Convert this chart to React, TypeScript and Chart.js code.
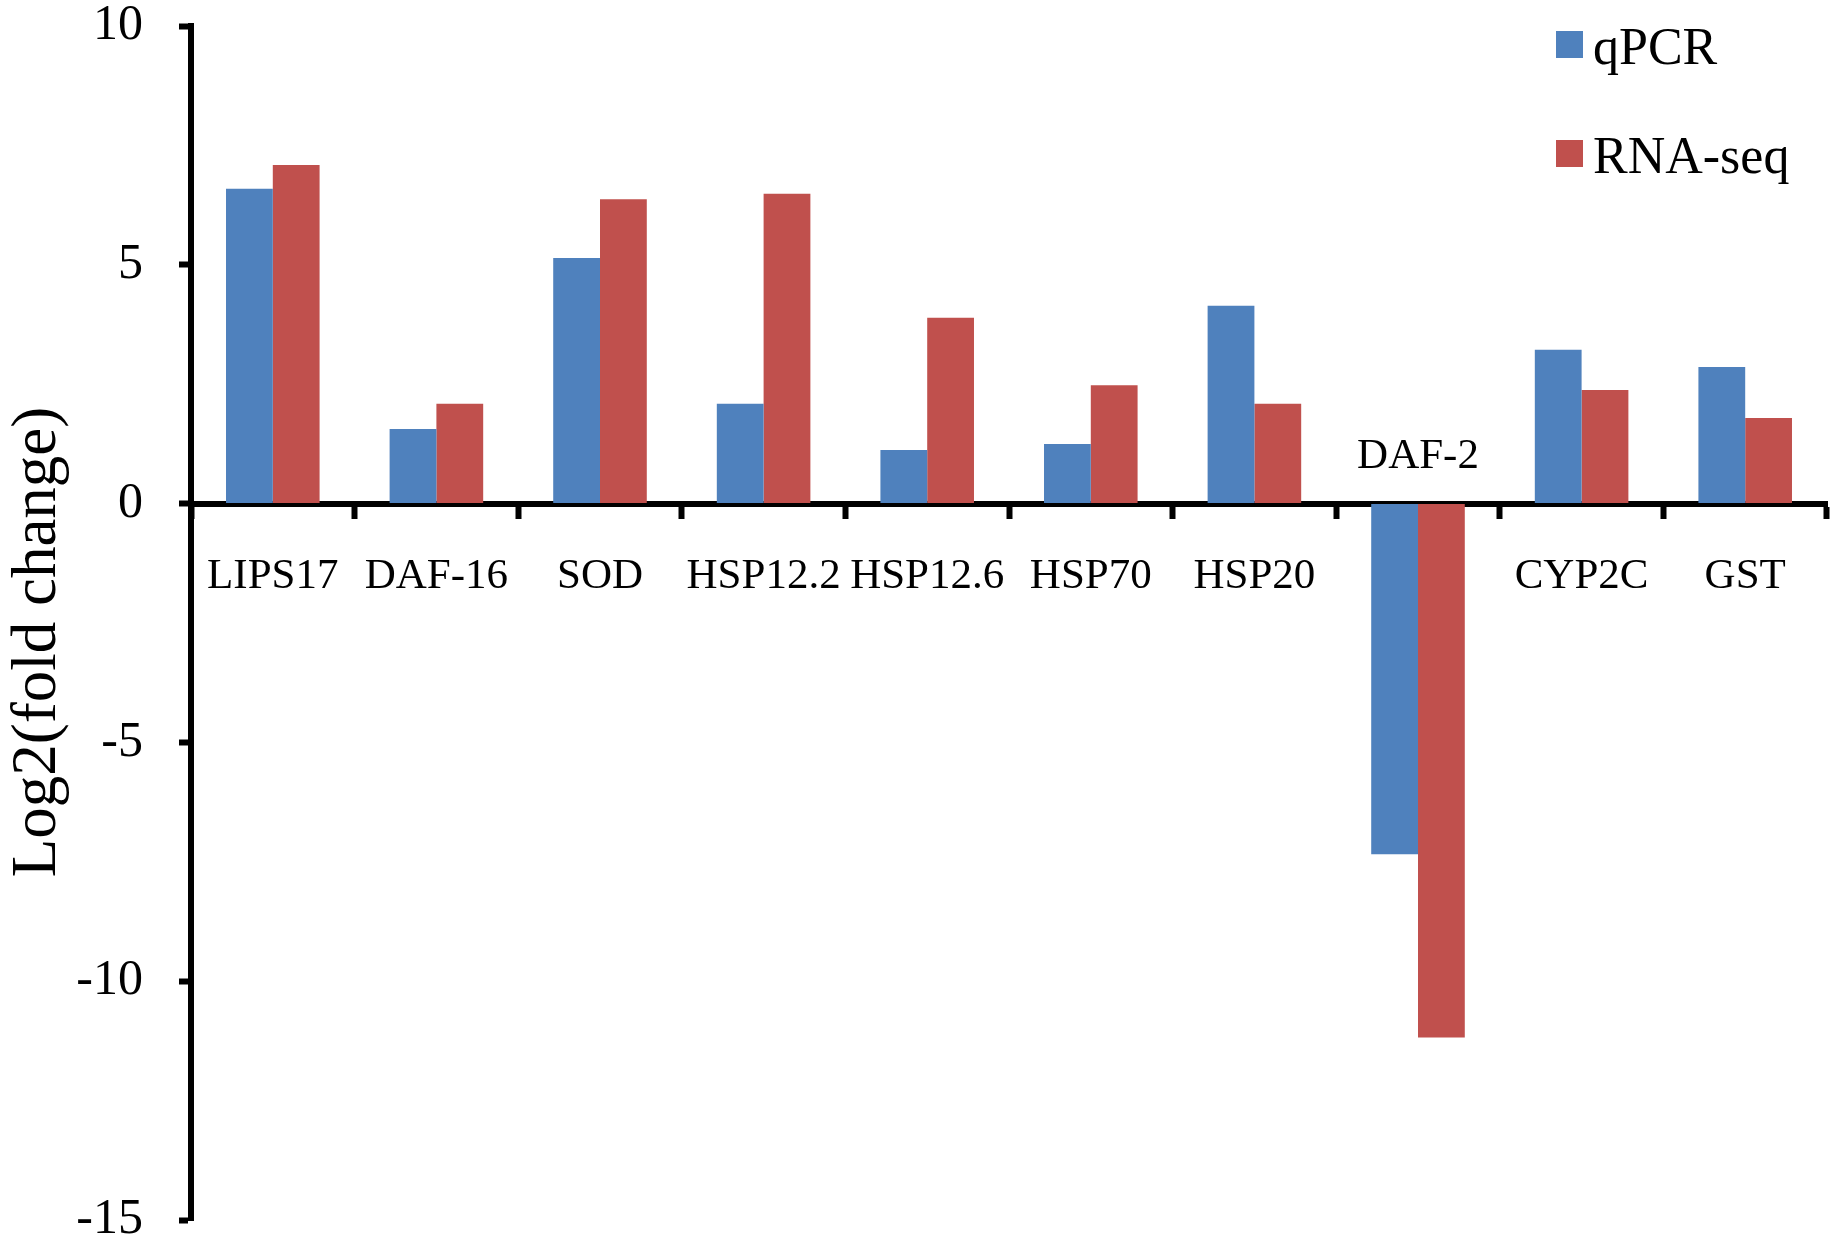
import React, { useEffect, useRef } from 'react';
import { Chart, registerables } from 'chart.js';

Chart.register(...registerables);

const genes = ['LIPS17', 'DAF-16', 'SOD', 'HSP12.2', 'HSP12.6', 'HSP70', 'HSP20', 'DAF-2', 'CYP2C', 'GST'];
const qpcr = [6.59, 1.56, 5.14, 2.09, 1.12, 1.25, 4.14, -7.34, 3.22, 2.86];
const rnaSeq = [7.09, 2.09, 6.37, 6.49, 3.89, 2.48, 2.09, -11.18, 2.38, 1.79];
const yMin = -15;
const yMax = 10;
const yStep = 5;
// these category labels sit above the zero line instead of below it
const labelsAbove = ['DAF-2'];
const yTitle = 'Log2(fold change)';

const FONT = "'Times New Roman', 'Liberation Serif', serif";

// category labels, axis title and legend drawn on top of the chart
const overlay = {
  id: 'overlay',
  afterDraw(chart: any) {
    const { ctx, chartArea } = chart;
    const x = chart.scales.x;
    const y = chart.scales.y;
    const zero = y.getPixelForValue(0);
    ctx.save();
    ctx.fillStyle = '#000';
    ctx.font = `43px ${FONT}`;
    ctx.textAlign = 'center';
    ctx.textBaseline = 'alphabetic';
    genes.forEach((g, i) => {
      const cx = x.getPixelForValue(i);
      const by = labelsAbove.includes(g) ? zero - 36 : zero + 84;
      ctx.fillText(g, cx, by);
    });

    // legend
    chart.data.datasets.forEach((ds: any, i: number) => {
      const top = chartArea.top + 5 + i * 109;
      const left = chartArea.right - 271;
      ctx.fillStyle = ds.backgroundColor;
      ctx.fillRect(left, top, 27, 27);
      ctx.fillStyle = '#000';
      ctx.font = `52px ${FONT}`;
      ctx.textAlign = 'left';
      ctx.fillText(ds.label, left + 37, top + 33);
    });

    // y axis title
    ctx.translate(55, (chartArea.top + chartArea.bottom) / 2 + 19);
    ctx.rotate(-Math.PI / 2);
    ctx.font = `63px ${FONT}`;
    ctx.textAlign = 'center';
    ctx.fillText(yTitle, 0, 0);
    ctx.restore();
  },
};

const FoldChangeChart = () => {
  const chartRef = useRef<HTMLCanvasElement>(null);

  useEffect(() => {
    const chart = new Chart(chartRef.current!, {
      type: 'bar',
      data: {
        labels: genes,
        datasets: [
          {
            label: 'qPCR',
            data: qpcr,
            backgroundColor: '#4F81BD',
            borderWidth: 0,
            barPercentage: 1,
            categoryPercentage: 0.572,
          },
          {
            label: 'RNA-seq',
            data: rnaSeq,
            backgroundColor: '#C0504D',
            borderWidth: 0,
            barPercentage: 1,
            categoryPercentage: 0.572,
          },
        ],
      },
      options: {
        animation: false,
        responsive: true,
        maintainAspectRatio: false,
        layout: {
          padding: { top: 26, right: 15, bottom: 22, left: 0 },
        },
        scales: {
          x: {
            position: { y: 0 },
            grid: {
              drawOnChartArea: false,
              drawTicks: true,
              tickLength: 12,
              tickWidth: 6,
              tickColor: '#000',
            },
            border: { display: true, color: '#000', width: 6 },
            ticks: { display: false },
          },
          y: {
            min: yMin,
            max: yMax,
            grid: {
              drawOnChartArea: false,
              drawTicks: true,
              tickLength: 12,
              tickWidth: 6,
              tickColor: '#000',
            },
            border: { display: true, color: '#000', width: 6 },
            ticks: {
              stepSize: yStep,
              color: '#000',
              padding: 36,
              font: { family: FONT, size: 50, lineHeight: 1 },
              callback: (v: any) => String(v),
            },
            afterFit: (scale: any) => {
              scale.width = 191;
              scale.paddingTop = 0;
              scale.paddingBottom = 0;
            },
          },
        },
        plugins: {
          legend: { display: false },
          tooltip: { enabled: false },
        },
      },
      plugins: [overlay],
    });

    return () => chart.destroy();
  }, []);

  return (
    <div style={{ position: 'fixed', left: 0, top: 0, width: 1842, height: 1242, background: '#fff' }}>
      <canvas ref={chartRef} />
    </div>
  );
};

export default function App() {
  return <FoldChangeChart />;
}
